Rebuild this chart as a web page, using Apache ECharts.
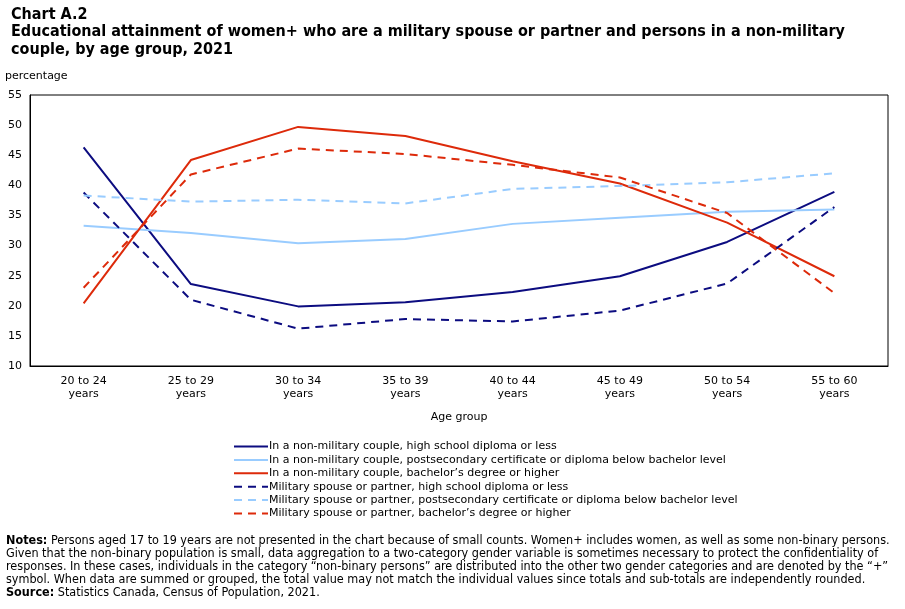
<!DOCTYPE html>
<html>
<head>
<meta charset="utf-8">
<script src="https://cdn.jsdelivr.net/npm/echarts@6/dist/echarts.min.js"></script>
<style>
  html, body { margin: 0; padding: 0; background: #fff; }
  #chart { width: 905px; height: 609px; }
</style>
</head>
<body>
<div id="chart"></div>
<script>
// age groups on the x axis
var ageGroups = ['20 to 24\nyears', '25 to 29\nyears', '30 to 34\nyears', '35 to 39\nyears',
                 '40 to 44\nyears', '45 to 49\nyears', '50 to 54\nyears', '55 to 60\nyears'];

// non-military couple
var civHighSchool = [46.3, 23.6, 19.9, 20.6, 22.3, 24.9, 30.6, 38.9];
var civPostsec    = [33.3, 32.1, 30.4, 31.1, 33.6, 34.6, 35.6, 36.0];
var civBachelor   = [20.4, 44.2, 49.7, 48.2, 44.0, 40.3, 33.8, 24.9];

// military spouse or partner
var milHighSchool = [38.8, 21.0, 16.2, 17.8, 17.4, 19.2, 23.7, 36.4];
var milPostsec    = [38.3, 37.3, 37.6, 37.0, 39.4, 39.9, 40.5, 42.0];
var milBachelor   = [23.0, 41.8, 46.1, 45.2, 43.4, 41.3, 35.4, 22.1];

var seriesNames = [
  'In a non-military couple, high school diploma or less',
  'In a non-military couple, postsecondary certificate or diploma below bachelor level',
  'In a non-military couple, bachelor\u2019s degree or higher',
  'Military spouse or partner, high school diploma or less',
  'Military spouse or partner, postsecondary certificate or diploma below bachelor level',
  'Military spouse or partner, bachelor\u2019s degree or higher'
];

var navy = '#0c0c80';
var lightBlue = '#99ccff';
var red = '#dd2a0a';
var font = 'Verdana, "DejaVu Sans", sans-serif';
var narrow = 'Tahoma, "DejaVu Sans Condensed", "Liberation Sans Narrow", sans-serif';

function mkLine(name, data, color, dashed) {
  return {
    name: name,
    type: 'line',
    data: data,
    symbol: 'none',
    silent: true,
    lineStyle: { color: color, width: 2, type: dashed ? [8, 6] : 'solid' },
    itemStyle: { color: color }
  };
}

var notes = [
  '{b|Notes:} Persons aged 17 to 19 years are not presented in the chart because of small counts. Women+ includes women, as well as some non-binary persons.',
  'Given that the non-binary population is small, data aggregation to a two-category gender variable is sometimes necessary to protect the confidentiality of',
  'responses. In these cases, individuals in the category \u201cnon-binary persons\u201d are distributed into the other two gender categories and are denoted by the \u201c+\u201d',
  'symbol. When data are summed or grouped, the total value may not match the individual values since totals and sub-totals are independently rounded.',
  '{b|Source:} Statistics Canada, Census of Population, 2021.'
].join('\n');

var chart = echarts.init(document.getElementById('chart'));
var option = {
  animation: false,
  backgroundColor: '#fff',
  title: {
    text: 'Chart A.2\nEducational attainment of women+ who are a military spouse or partner and persons in a non-military\ncouple, by age group, 2021',
    left: 6,
    top: 1,
    textStyle: { fontFamily: narrow, fontSize: 16, fontWeight: 'bold', color: '#000', lineHeight: 17.5 }
  },
  grid: {
    left: 30, top: 95, right: 17, bottom: 243,
    show: true, borderColor: '#000', borderWidth: 1
  },
  legend: {
    orient: 'vertical',
    left: 228,
    top: 436,
    itemWidth: 34,
    itemHeight: 10,
    itemGap: 2.4,
    selectedMode: false,
    itemStyle: { opacity: 0 },
    textStyle: { fontFamily: font, fontSize: 11, color: '#000', padding: [0, 0, 0, -4] },
    data: seriesNames
  },
  xAxis: {
    type: 'category',
    data: ageGroups,
    boundaryGap: true,
    name: 'Age group',
    nameLocation: 'middle',
    nameGap: 46,
    nameTextStyle: { fontFamily: font, fontSize: 11, color: '#000' },
    axisLine: { lineStyle: { color: '#000', width: 1 } },
    axisTick: { alignWithLabel: true, length: 5, lineStyle: { color: '#000' } },
    axisLabel: { fontFamily: font, fontSize: 11, color: '#000', margin: 9, lineHeight: 13, interval: 0 },
    splitLine: { show: false }
  },
  yAxis: {
    type: 'value',
    min: 10, max: 55, interval: 5,
    name: 'percentage',
    nameLocation: 'end',
    nameGap: 13,
    nameTextStyle: { fontFamily: font, fontSize: 11, color: '#000', align: 'left', padding: [0, 0, 0, -25] },
    axisLine: { show: true, lineStyle: { color: '#000' } },
    axisTick: { show: false },
    axisLabel: { fontFamily: font, fontSize: 11, color: '#000', margin: 8 },
    splitLine: { show: false }
  },
  graphic: [{
    type: 'text',
    left: 6,
    top: 534,
    style: {
      text: notes,
      fontFamily: narrow,
      fontSize: 12.5,
      lineHeight: 13,
      fill: '#000',
      rich: { b: { fontWeight: 'bold', fontFamily: narrow, fontSize: 12.5 } }
    }
  }],
  series: [
    mkLine(seriesNames[0], civHighSchool, navy, false),
    mkLine(seriesNames[1], civPostsec, lightBlue, false),
    mkLine(seriesNames[2], civBachelor, red, false),
    mkLine(seriesNames[3], milHighSchool, navy, true),
    mkLine(seriesNames[4], milPostsec, lightBlue, true),
    mkLine(seriesNames[5], milBachelor, red, true)
  ]
};
chart.setOption(option);
</script>
</body>
</html>
